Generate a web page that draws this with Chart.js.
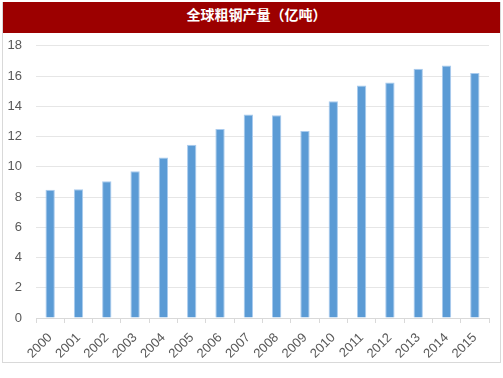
<!DOCTYPE html>
<html><head><meta charset="utf-8">
<script src="https://cdn.jsdelivr.net/npm/chart.js@4"></script>
<style>
html,body{margin:0;padding:0;background:#fff;}
#wrap{position:absolute;left:2px;top:2px;width:497px;height:360px;border:1px solid #d9d9d9;border-top:none;}
#title{position:relative;z-index:2;height:31px;background:#9c0000;color:#fff;font:bold 14px "Noto Sans CJK SC",sans-serif;text-align:center;line-height:24px;padding-left:10px;}
#cv{position:absolute;left:0;top:22px;z-index:1;}
</style></head><body>
<div id="wrap"><div id="title">全球粗钢产量（亿吨）</div><canvas id="cv" width="497" height="338"></canvas></div>
<script>
const years = ['2000','2001','2002','2003','2004','2005','2006','2007','2008','2009','2010','2011','2012','2013','2014','2015'];
const output = [8.48, 8.51, 9.04, 9.7, 10.62, 11.46, 12.49, 13.45, 13.41, 12.36, 14.33, 15.37, 15.58, 16.48, 16.69, 16.2];
const yTicks = [0,2,4,6,8,10,12,14,16,18];

new Chart(document.getElementById('cv'), {
  type: 'bar',
  data: { labels: years, datasets: [{ data: output, backgroundColor: '#5b9bd5', borderColor: '#a9cbee', borderWidth: 1, barPercentage: 0.66, categoryPercentage: 0.5 }] },
  options: {
    responsive: false, animation: false,
    layout: { padding: { top: 0, right: 11, left: 0, bottom: 0 } },
    plugins: { legend: { display: false }, tooltip: { enabled: false } },
    scales: {
      x: {
        grid: { offset: true, drawOnChartArea: false, color: '#d9d9d9', tickLength: 5 },
        border: { color: '#d9d9d9' },
        ticks: { color: '#595959', font: { family: 'Liberation Sans', size: 13 }, maxRotation: 45, minRotation: 45, padding: 7 },
        afterFit: s => { s.height = 44; }
      },
      y: {
        min: 0, max: 18,
        afterBuildTicks: s => { s.ticks = yTicks.map(v => ({ value: v })); },
        grid: { color: '#e6e6e6', drawTicks: false },
        border: { display: false },
        ticks: { color: '#595959', font: { family: 'Liberation Sans', size: 13 }, padding: 14 },
        afterFit: s => { s.width = 33; }
      }
    }
  }
});
</script></body></html>
